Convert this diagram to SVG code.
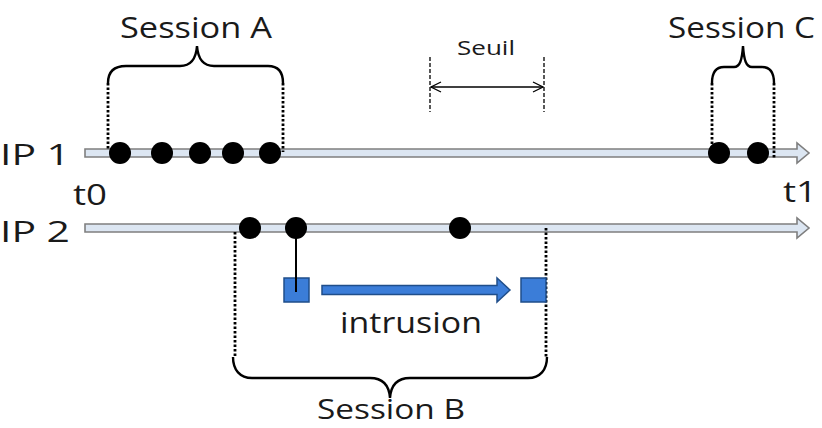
<svg xmlns="http://www.w3.org/2000/svg" width="822" height="428" viewBox="0 0 822 428">
  <defs>
    <style>
      .lbl { font-family: "Open Sans", "Liberation Sans", sans-serif; fill: #1a1a1a; }
      .big { font-size: 30px; }
      .mid { font-size: 28px; }
      .small { font-size: 20px; }
      .bar { fill: #dce6f2; stroke: #7f7f7f; stroke-width: 1.6; }
      .dot { fill: #000; }
      .dotted { stroke: #000; stroke-width: 2.8; stroke-dasharray: 2.5 2; fill: none; }
      .dashed { stroke: #000; stroke-width: 1.3; stroke-dasharray: 4 2; fill: none; }
      .brace { stroke: #000; stroke-width: 2.4; fill: none; }
      .sq { fill: #3b7dd8; stroke: #1f4e8a; stroke-width: 1.5; }
    </style>
    <marker id="chev" viewBox="0 0 12 12" refX="11" refY="6" markerWidth="12" markerHeight="12" markerUnits="userSpaceOnUse" orient="auto-start-reverse">
      <path d="M1,1 L11,6 L1,11" fill="none" stroke="#000" stroke-width="1.3"/>
    </marker>
  </defs>

  <!-- timelines -->
  <g id="ip1">
    <path class="bar" d="M85,149 H797 V143 L809,153 L797,163 V157 H85 Z"/>
    <text class="lbl big" x="0" y="165" textLength="70" lengthAdjust="spacingAndGlyphs">IP 1</text>
    <text class="lbl big" x="73" y="205" textLength="34" lengthAdjust="spacingAndGlyphs">t0</text>
    <text class="lbl big" x="783" y="202" textLength="34" lengthAdjust="spacingAndGlyphs">t1</text>
  </g>
  <g id="ip2">
    <path class="bar" d="M85,224 H797 V218 L809,228 L797,238 V232 H85 Z"/>
    <text class="lbl big" x="0" y="242" textLength="70" lengthAdjust="spacingAndGlyphs">IP 2</text>
  </g>

  <!-- session A -->
  <g id="session-a">
    <path class="dotted" d="M108,83 V150 M283,83 V152"/>
    <path class="brace" d="M108,83 C108,72 114,66 126,66 L180,66 C190,66 196,60 197,46 C198,60 204,66 214,66 L268,66 C278,66 283,72 283,83"/>
    <circle class="dot" cx="120" cy="153" r="11"/>
    <circle class="dot" cx="162" cy="153" r="11"/>
    <circle class="dot" cx="200" cy="153" r="11"/>
    <circle class="dot" cx="233" cy="153" r="11"/>
    <circle class="dot" cx="270" cy="153" r="11"/>
    <text class="lbl big" x="120" y="38" textLength="152" lengthAdjust="spacingAndGlyphs">Session A</text>
  </g>

  <!-- session C -->
  <g id="session-c">
    <path class="dotted" d="M712,83 V148 M774,83 V158"/>
    <path class="brace" d="M712,83 C712,72 716,67 724,67 L734,67 C740,67 742,60 743,46 C744,60 746,67 752,67 L762,67 C770,67 774,72 774,83"/>
    <circle class="dot" cx="719" cy="153" r="11"/>
    <circle class="dot" cx="758" cy="153" r="11"/>
    <text class="lbl big" x="668" y="38" textLength="147" lengthAdjust="spacingAndGlyphs">Session C</text>
  </g>

  <!-- threshold -->
  <g id="seuil">
    <path class="dashed" d="M430,57 V112 M544,57 V112"/>
    <text class="lbl small" x="457" y="55" textLength="58" lengthAdjust="spacingAndGlyphs">Seuil</text>
  </g>

  <!-- session B -->
  <g id="session-b">
    <path class="dotted" d="M235,232 V357 M546,228 V357"/>
    <path class="brace" d="M233,357 C233,370 240,378 252,378 L370,378 C382,378 389,384 390,398 C391,384 398,378 410,378 L528,378 C540,378 547,370 547,357"/>
    <circle class="dot" cx="250" cy="228" r="11"/>
    <circle class="dot" cx="296" cy="228" r="11"/>
    <circle class="dot" cx="460" cy="228" r="11"/>
    <text class="lbl mid" x="317" y="419" textLength="148" lengthAdjust="spacingAndGlyphs">Session B</text>
  </g>

  <!-- intrusion -->
  <g id="intrusion">
    <rect class="sq" x="284" y="278" width="25" height="24"/>
    <rect class="sq" x="521" y="278" width="25" height="24"/>
    <path class="sq" d="M322,285.5 H497 V278 L510,290 L497,302 V294.5 H322 Z"/>
    <text class="lbl big" x="340" y="333" textLength="142" lengthAdjust="spacingAndGlyphs">intrusion</text>
  </g>

  <!-- connectors -->
  <g id="connectors">
    <line x1="296" y1="228" x2="296" y2="292" stroke="#000" stroke-width="2"/>
    <line x1="431" y1="87" x2="543" y2="87" stroke="#000" stroke-width="1.5" marker-start="url(#chev)" marker-end="url(#chev)"/>
  </g>
</svg>
